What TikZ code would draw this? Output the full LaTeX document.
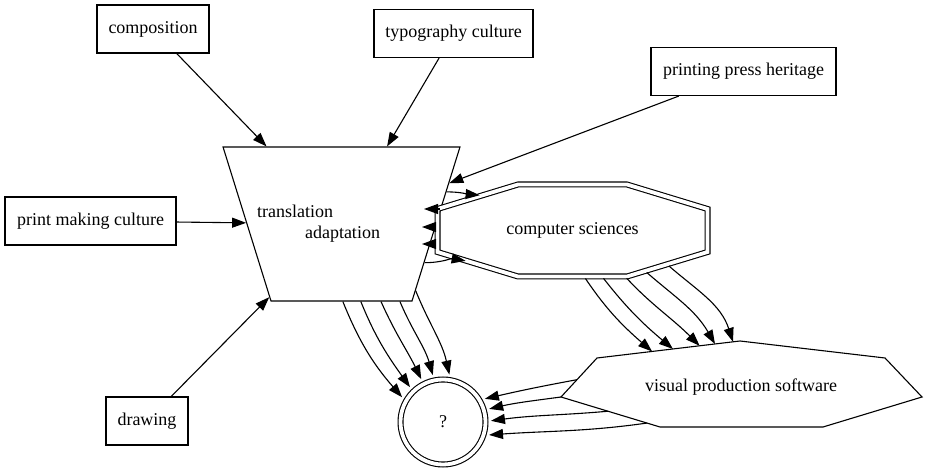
\documentclass[tikz,border=0pt]{standalone}
\usepackage{fontspec}
\setmainfont{Liberation Serif}
\usetikzlibrary{arrows.meta, shapes.geometric, calc}

\begin{document}
\begin{tikzpicture}[x=1pt, y=1pt, line width=1.1pt, font=\fontsize{18}{21}\selectfont,
        inbox/.style={draw, rectangle, minimum height=48pt, inner sep=0pt},
        trapbox/.style={draw, trapezium, shape border rotate=180, trapezium angle=72.7,
          inner xsep=70.5pt, inner ysep=77pt},
        qcircle/.style={draw, double, double distance=3.8pt, circle, minimum size=85pt, inner sep=0pt, outer sep=2.5pt},
        edge/.style={-{Triangle[length=14pt, width=10pt]}},
      ]
        \useasboundingbox (0,0) rectangle (928,473);

        % Sources
        \node[inbox, minimum width=112pt] (comp) at (153,444) {composition};
        \node[inbox, minimum width=159pt] (typo) at (453.5,439.5) {typography culture};
        \node[inbox, minimum width=185pt] (press) at (743.5,401.5) {printing press heritage};
        \node[inbox, minimum width=171pt] (pmc) at (90.5,252) {print making culture};
        \node[inbox, minimum width=82pt] (drw) at (147,52) {drawing};

        % Middle
        \node[trapbox, label={[xshift=-23pt, yshift=0.5pt, align=left]center:translation\\\hspace*{48pt}adaptation}] (trap) at (341.5,249) {};
        \node[qcircle] (q) at (443,51) {?};

        % Computer sciences (double octagon)
        \coordinate (csTL) at (518,288.5);
        \coordinate (csTR) at (627,288.5);
        \coordinate (csRU) at (707.5,264);
        \coordinate (csRL) at (707.5,221);
        \coordinate (csBR) at (627,196.5);
        \coordinate (csBL) at (518,196.5);
        \coordinate (csLL) at (437.5,221);
        \coordinate (csLU) at (437.5,264);
        \draw[double, double distance=3.8pt] (csTL) -- (csTR) -- (csRU) -- (csRL) -- (csBR) -- (csBL) -- (csLL) -- (csLU) -- cycle;
        \node (cs) at (572.5,242.5) {computer sciences};

        % Visual production software (skewed septagon)
        \coordinate (vpsT) at (740,132);
        \coordinate (vpsUR) at (885,115);
        \coordinate (vpsR) at (922,76);
        \coordinate (vpsBR) at (823,46);
        \coordinate (vpsBL) at (660,46);
        \coordinate (vpsL) at (561,76);
        \coordinate (vpsUL) at (597,115);
        \draw (vpsT) -- (vpsUR) -- (vpsR) -- (vpsBR) -- (vpsBL) -- (vpsL) -- (vpsUL) -- cycle;
        \node (vps) at (741,86) {visual production software};

        % Sources into the trapezium
        \foreach \src in {comp, typo, press, pmc, drw} {
          \draw[edge] (\src) -- (trap);
        }

        % Trapezium and computer sciences
        \draw[edge, shorten >=2.4pt] (trap.17.5) to[out=0, in=175] ($(csLU)!0.553!(csTL)$);
        \draw[edge, shorten >=2.4pt] (trap.335.3) to[out=0, in=170] ($(csLL)!0.379!(csBL)$);
        \coordinate (ct1) at (424,264);
        \coordinate (ct2) at (422,246);
        \coordinate (ct3) at (422,229);
        \draw[edge, shorten <=2.4pt] (csLU) -- (ct1);
        \draw[edge, shorten <=2.4pt] ($(csLU)!0.419!(csLL)$) -- (ct2);
        \draw[edge, shorten <=2.4pt] ($(csLU)!0.814!(csLL)$) -- (ct3);

        % Trapezium to question mark
        \foreach \a/\b/\o/\i in {271.8/150.8/-68/131, 284.7/134.1/-68/125.5, 297.4/117.6/-66/116,
            307.8/102/-67/106, 318.1/81.5/-68/102.5} {
          \draw[edge, shorten >=3pt] (trap.\a) to[out=\o, in=\i] (q.\b);
        }

        % Computer sciences to software
        \foreach \p/\t/\o/\i in {csBL/0.606/-56/139, csBL/0.771/-52/140, csBL/0.982/-47/135} {
          \draw[edge, shorten <=2.4pt] ($(\p)!\t!(csBR)$) to[out=\o, in=\i] ($(vpsUL)!{0.385+0.146*(\t-0.606)/0.165}!(vpsT)$);
        }
        \draw[edge, shorten <=2.4pt] ($(csBR)!0.224!(csRL)$) to[out=-41, in=120] ($(vpsUL)!0.825!(vpsT)$);
        \draw[edge, shorten <=2.4pt] ($(csBR)!0.497!(csRL)$) to[out=-41, in=108] ($(vpsUL)!0.951!(vpsT)$);

        % Software to question mark
        \draw[edge, shorten >=3pt] ($(vpsUL)!0.556!(vpsL)$) to[out=190.5, in=13] (q.30.6);
        \draw[edge, shorten >=3pt] (vpsL) to[out=187.6, in=13] (q.16.7);
        \draw[edge, shorten >=3pt] ($(vpsL)!0.475!(vpsBL)$) to[out=185, in=7.6] (q.1.1);
        \draw[edge, shorten >=3pt] ($(vpsL)!0.869!(vpsBL)$) to[out=188, in=4] (q.343.3);
      \end{tikzpicture}
\end{document}
